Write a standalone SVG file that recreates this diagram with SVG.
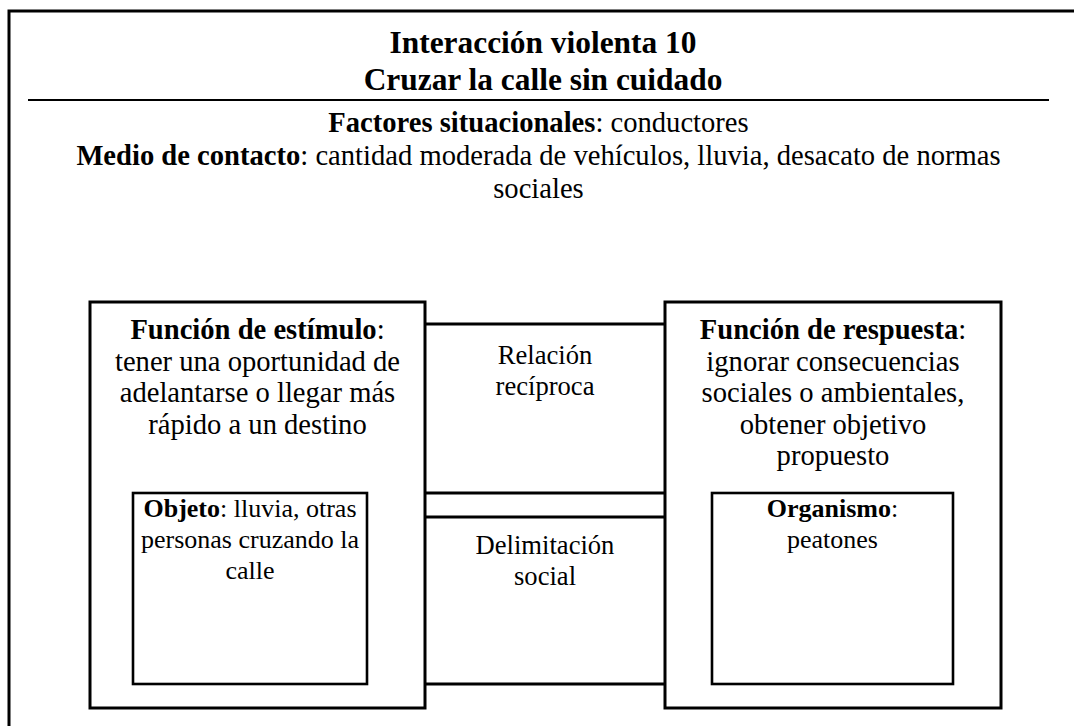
<svg xmlns="http://www.w3.org/2000/svg" width="1074" height="726" viewBox="0 0 1074 726">
<style>
  text { font-family: "Liberation Serif", "Times New Roman", serif; fill: #000; text-anchor: middle; }
  .title { font-size: 31.4px; font-weight: bold; }
  .body { font-size: 28.6px; }
  .small { font-size: 26px; }
  .mid { font-size: 26.6px; }
  .b { font-weight: bold; }
  .box { fill: #fff; stroke: #000; stroke-width: 3; }
  .inner { fill: #fff; stroke: #000; stroke-width: 2.6; }
  .conn { stroke: #000; stroke-width: 3; fill: none; }
</style>
<rect x="0" y="0" width="1074" height="726" fill="#fff"/>
<g id="frame">
  <path d="M9,728 V11 H1080" fill="none" stroke="#000" stroke-width="3"/>
  <line x1="28" y1="100" x2="1049" y2="100" stroke="#000" stroke-width="2"/>
</g>
<g id="header">
  <text class="title" x="543" y="53">Interacción violenta 10</text>
  <text class="title" x="543" y="90">Cruzar la calle sin cuidado</text>
  <text class="body" x="538.5" y="132"><tspan class="b">Factores situacionales</tspan>: conductores</text>
  <text class="body" x="538.5" y="165"><tspan class="b">Medio de contacto</tspan>: cantidad moderada de vehículos, lluvia, desacato de normas</text>
  <text class="body" x="538.5" y="198">sociales</text>
</g>
<g id="connectors">
  <line class="conn" x1="425" y1="324" x2="665" y2="324"/>
  <line class="conn" x1="425" y1="493" x2="665" y2="493"/>
  <line class="conn" x1="425" y1="517" x2="665" y2="517"/>
  <line class="conn" x1="425" y1="684" x2="665" y2="684"/>
  <text class="mid" x="545" y="364">Relación</text>
  <text class="mid" x="545" y="395">recíproca</text>
  <text class="mid" x="545" y="554">Delimitación</text>
  <text class="mid" x="545" y="585">social</text>
</g>
<g id="estimulo">
  <rect class="box" x="90" y="302" width="335" height="406"/>
  <text class="body" x="257.5" y="339"><tspan class="b">Función de estímulo</tspan>:</text>
  <text class="body" x="257.5" y="370.5">tener una oportunidad de</text>
  <text class="body" x="257.5" y="402">adelantarse o llegar más</text>
  <text class="body" x="257.5" y="433.5">rápido a un destino</text>
</g>
<g id="objeto">
  <rect class="inner" x="133" y="493" width="234" height="191"/>
  <text class="small" x="250" y="517"><tspan class="b">Objeto</tspan>: lluvia, otras</text>
  <text class="small" x="250" y="548">personas cruzando la</text>
  <text class="small" x="250" y="579">calle</text>
</g>
<g id="respuesta">
  <rect class="box" x="665" y="302" width="336" height="406"/>
  <text class="body" x="833" y="339"><tspan class="b">Función de respuesta</tspan>:</text>
  <text class="body" x="833" y="370.5">ignorar consecuencias</text>
  <text class="body" x="833" y="402">sociales o ambientales,</text>
  <text class="body" x="833" y="433.5">obtener objetivo</text>
  <text class="body" x="833" y="465">propuesto</text>
</g>
<g id="organismo">
  <rect class="inner" x="712" y="493" width="241" height="191"/>
  <text class="small" x="832.5" y="517"><tspan class="b">Organismo</tspan>:</text>
  <text class="small" x="832.5" y="548">peatones</text>
</g>
</svg>
